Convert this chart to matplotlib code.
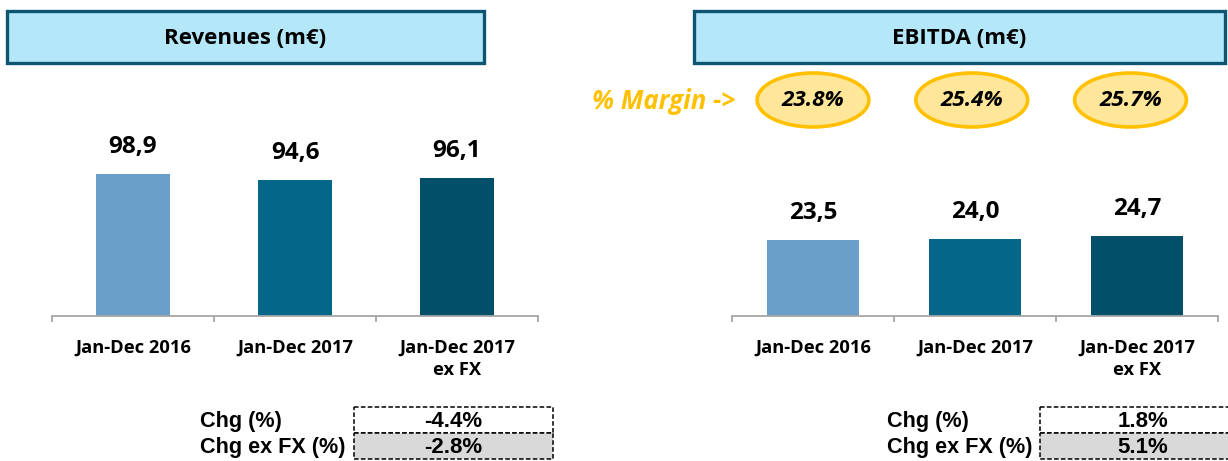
import matplotlib
matplotlib.use('Agg')
import matplotlib.pyplot as plt
from matplotlib.patches import Rectangle, Ellipse
from matplotlib.transforms import blended_transform_factory

# data
categories = ['Jan-Dec 2016', 'Jan-Dec 2017', 'Jan-Dec 2017\nex FX']
revenues = [98.9, 94.6, 96.1]
ebitda = [23.5, 24.0, 24.7]
margins = [23.8, 25.4, 25.7]
rev_chg = ['-4.4%', '-2.8%']
ebitda_chg = ['1.8%', '5.1%']
chg_labels = ['Chg (%)', 'Chg ex FX (%)']

bar_colors = ['#6A9FC9', '#046688', '#024F6A']
W, H = 1228, 461
FONT = 'Open Sans'

fig = plt.figure(figsize=(W / 100, H / 100), dpi=100)

# overlay in pixel coords for boxes and table
ov = fig.add_axes([0, 0, 1, 1], zorder=0)
ov.set_xlim(0, W)
ov.set_ylim(H, 0)
ov.axis('off')


def px_axes(x0, x1, ytop, ybot):
    return fig.add_axes([x0 / W, 1 - ybot / H, (x1 - x0) / W, (ybot - ytop) / H], zorder=2)


def bar_panel(ax, values, width, ymax):
    ax.patch.set_alpha(0)
    x = range(len(values))
    bars = ax.bar(x, values, width=width, color=bar_colors)
    ax.set_xlim(-0.5, len(values) - 0.5)
    ax.set_ylim(0, ymax)
    for s in ['top', 'left', 'right']:
        ax.spines[s].set_visible(False)
    ax.spines['bottom'].set_color('#A6A6A6')
    ax.spines['bottom'].set_linewidth(1.3)
    ax.set_yticks([])
    ax.set_xticks(list(x))
    ax.set_xticklabels(categories, fontfamily=FONT, fontweight='bold',
                       fontsize=13.2, linespacing=1.32)
    ax.tick_params(axis='x', which='major', length=0, pad=16)
    ax.set_xticks([i - 0.5 for i in range(len(values) + 1)], minor=True)
    ax.tick_params(axis='x', which='minor', length=4, width=1.3,
                   color='#A6A6A6', direction='out')
    for b, v in zip(bars, values):
        ax.annotate(f'{v:.1f}'.replace('.', ','),
                    (b.get_x() + b.get_width() / 2, v),
                    xytext=(0, 19.5), textcoords='offset points',
                    ha='center', va='center', fontfamily=FONT,
                    fontweight='bold', fontsize=17.5)


def title_box(x0, x1, text):
    ov.add_patch(Rectangle((x0, 11), x1 - x0, 52, facecolor='#B4E7F8',
                           edgecolor='#0D5571', lw=2.4))
    ov.text((x0 + x1) / 2, 38, text, ha='center', va='center',
            fontfamily=FONT, fontweight='bold', fontsize=16)


def chg_table(xlab, x0, x1, vals):
    fills = ['white', '#D9D9D9']
    for i, (lab, v) in enumerate(zip(chg_labels, vals)):
        y0 = 407 + i * 26
        ov.add_patch(Rectangle((x0, y0), x1 - x0, 26, facecolor=fills[i],
                               edgecolor='black', lw=1.1, ls=(0, (3, 1.5))))
        ov.text(xlab, y0 + 14, lab, ha='left', va='center',
                fontfamily='Liberation Sans', fontweight='bold', fontsize=15.6)
        ov.text((x0 + x1) / 2, y0 + 14, v, ha='center', va='center',
                fontfamily='Liberation Sans', fontweight='bold', fontsize=16)


title_box(7, 484, 'Revenues (m€)')
title_box(694, 1225, 'EBITDA (m€)')

ax1 = px_axes(52, 538, 316 - 130 * 1.436, 316)
bar_panel(ax1, revenues, 0.455, 130)

ax2 = px_axes(732, 1218, 316 - 50 * 3.22, 316)
bar_panel(ax2, ebitda, 0.57, 50)

# margin ellipses above EBITDA bars
tr = blended_transform_factory(ax2.transData, fig.transFigure)
yc = 1 - 100 / H
for i, m in enumerate(margins):
    ax2.add_patch(Ellipse((i - 0.02 * i, yc), 0.69, 54 / H, transform=tr,
                          facecolor='#FFE699', edgecolor='#FFC000', lw=2.6,
                          clip_on=False))
    ax2.text(i - 0.02 * i, yc, f'{m:.1f}%', transform=tr, ha='center',
             va='center', fontfamily=FONT, fontweight='bold',
             fontstyle='italic', fontsize=16.2)
ov.text(592, 101, '% Margin ->', ha='left', va='center', color='#FFC000',
        fontfamily=FONT, fontweight='bold', fontstyle='italic', fontsize=18.5)

chg_table(200, 354, 553, rev_chg)
chg_table(887, 1040, 1246, ebitda_chg)

fig.savefig('out.png', dpi=100)
